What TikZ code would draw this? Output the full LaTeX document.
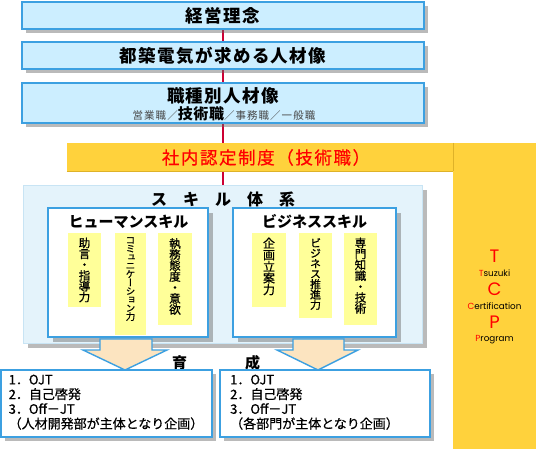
\documentclass[tikz,border=0pt]{standalone}
\usepackage{fontspec}
\setmainfont{Noto Sans CJK JP}
\newfontfamily\jp{Noto Sans CJK JP}
\newfontfamily\jpm[FakeBold=0.6]{Noto Sans CJK JP}
\newfontfamily\vjp[RawFeature=+vert,FakeBold=0.8]{Noto Sans CJK JP}
\newfontfamily\geo{Poppins}
\usetikzlibrary{shadows,backgrounds}
\definecolor{boxblue}{RGB}{204,238,255}
\definecolor{edgeblue}{RGB}{60,160,225}
\definecolor{gold}{RGB}{255,210,60}
\definecolor{golddark}{RGB}{222,178,40}
\definecolor{paleyel}{RGB}{255,255,153}
\definecolor{panelfill}{RGB}{228,243,251}
\definecolor{paneledge}{RGB}{200,228,244}
\definecolor{peach}{RGB}{252,228,192}
\definecolor{lred}{RGB}{204,0,51}
\definecolor{subgray}{RGB}{70,70,70}
\begin{document}
\setlength{\lineskiplimit}{-10pt}
\begin{tikzpicture}[x=1pt,y=-1pt,
  shad/.style={drop shadow={shadow xshift=#1, shadow yshift=-#1, fill=black!60, opacity=0.45}},
  topbox/.style={draw=edgeblue, line width=1.4pt, fill=boxblue, minimum width=402pt, inner sep=0pt, shad=4pt},
  head/.style={font=\jp\bfseries\fontsize{17.5}{20}\selectfont\addfontfeatures{LetterSpace=8}},
  skillbox/.style={draw=edgeblue, line width=1.4pt, fill=white, minimum height=129pt, inner sep=0pt, shad=5pt},
  skilltitle/.style={font=\jp\bfseries\fontsize{15}{18}\selectfont},
  ycol/.style={fill=paleyel, inner sep=0pt},
  vtxt/.style={anchor=north, inner sep=0pt, align=center},
  devarrow/.style={draw=edgeblue, line width=1.4pt, fill=peach, line join=miter},
  outbox/.style={draw=edgeblue, line width=1.4pt, fill=white, minimum height=67pt, inner sep=0pt, shad=4pt},
  outtxt/.style={anchor=north west, inner sep=0pt, align=left, font=\jpm\fontsize{13}{14.7}\selectfont},
  bigl/.style={anchor=base, inner sep=0pt, text=red, font=\geo\fontsize{18}{20}\selectfont},
  smalll/.style={anchor=base, inner sep=0pt, font=\geo\fontsize{8.8}{10}\selectfont}
]
\useasboundingbox (0,0) rectangle (540,452);

% top boxes
\node[topbox, minimum height=27pt, head] (b1) at (223,15.5) {経営理念};
\node[topbox, minimum height=27pt, head] (b2) at (223,55.5) {都築電気が求める人材像};
\node[topbox, minimum height=40pt] (b3) at (223,103) {};
\node[inner sep=0pt, head] (b3t) at (223,95.5) {職種別人材像};
\node[inner sep=0pt, font=\jp\fontsize{10.5}{12}\selectfont\addfontfeatures{LetterSpace=10}, text=subgray] (b3s) at (224,114)
  {営業職／{\bfseries\fontsize{15}{16}\selectfont\addfontfeatures{LetterSpace=4}\color{black}技術職}／事務職／一般職};

% certification bar and TCP column
\node[fill=gold, minimum width=386pt, minimum height=28pt, inner sep=0pt] (bar) at (260,157) {};
\node[fill=gold, minimum width=83pt, minimum height=306pt, inner sep=0pt] (tcp) at (494.5,296) {};
\draw[golddark, line width=0.6pt] (bar.north east) -- (bar.south east);
\draw[golddark, line width=1.2pt] (bar.south west) -- (bar.south east);
\node[inner sep=0pt, text=red, font=\jpm\fontsize{17.5}{20}\selectfont\addfontfeatures{LetterSpace=9}] (bart) at (266,157.5) {社内認定制度（技術職）};

\node[bigl] (tT) at (494.5,262.5) {T};
\node[smalll] (tw1) at (494.5,276.5) {\textcolor{red}{T}suzuki};
\node[bigl] (tC) at (494.5,295.5) {C};
\node[smalll] (tw2) at (494.5,309.5) {\textcolor{red}{C}ertification};
\node[bigl] (tP) at (494.5,328.5) {P};
\node[smalll] (tw3) at (494.5,341) {\textcolor{red}{P}rogram};

% skill panel
\node[draw=paneledge, line width=0.8pt, fill=panelfill, minimum width=399pt, minimum height=158pt, inner sep=0pt, shad=5pt] (panel) at (222.5,264) {};
\node[inner sep=0pt, font=\jp\bfseries\fontsize{16}{18}\selectfont] (pt) at (223,199) {ス　キ　ル　体　系};

\node[skillbox, minimum width=160pt] (hum) at (128,272.5) {};
\node[skillbox, minimum width=163pt] (bus) at (314.5,272.5) {};
\node[skilltitle] (humt) at (128.5,221.5) {ヒューマンスキル};
\node[skilltitle] (bust) at (314.5,221.5) {ビジネススキル};

\node[ycol, minimum width=33pt, minimum height=74pt] (c1) at (84.5,270) {};
\node[ycol, minimum width=31pt, minimum height=102pt] (c2) at (130.5,284) {};
\node[ycol, minimum width=34pt, minimum height=92pt] (c3) at (175,279) {};
\node[ycol, minimum width=34pt, minimum height=74pt] (c4) at (269,270) {};
\node[ycol, minimum width=33pt, minimum height=85pt] (c5) at (315.5,275.5) {};
\node[ycol, minimum width=33pt, minimum height=92pt] (c6) at (360.5,279) {};

\node[vtxt, font=\vjp\fontsize{11.5}{10.8}\selectfont] (v1) at (84.5,237.5) {助\\言\\・\\指\\導\\力};
\node[vtxt, font=\vjp\fontsize{9.5}{8.5}\selectfont] (v2) at (130.5,237) {コ\\ミ\\ュ\\ニ\\ケ\\ー\\シ\\ョ\\ン\\力};
\node[vtxt, font=\vjp\fontsize{11.5}{11}\selectfont] (v3) at (175,238) {執\\務\\態\\度\\・\\意\\欲};
\node[vtxt, font=\vjp\fontsize{12}{11.6}\selectfont] (v4) at (269,237.5) {企\\画\\立\\案\\力};
\node[vtxt, font=\vjp\fontsize{11}{10.3}\selectfont] (v5) at (315.5,238) {ビ\\ジ\\ネ\\ス\\推\\進\\力};
\node[vtxt, font=\vjp\fontsize{11.5}{10.9}\selectfont] (v6) at (360.5,237.5) {専\\門\\知\\識\\・\\技\\術};

% development arrows
\draw[devarrow] (100,339) -- (152,339) -- (152,350) -- (167,350) -- (125,370) -- (83,350) -- (100,350) -- cycle;
\draw[devarrow] (293,339) -- (344,339) -- (344,350) -- (358,350) -- (318,370) -- (277,350) -- (293,350) -- cycle;
\node[inner sep=0pt, font=\jp\bfseries\fontsize{15}{16}\selectfont] (iku) at (179.5,363) {育};
\node[inner sep=0pt, font=\jp\bfseries\fontsize{15}{16}\selectfont] (sei) at (252.5,363) {成};

% output boxes
\node[outbox, minimum width=211pt] (lo) at (106.5,403.5) {};
\node[outbox, minimum width=210pt] (ro) at (325,403.5) {};
\node[outtxt] (lot) at (8.5,374.5) {1．OJT\\2．自己啓発\\3．Off－JT\\（人材開発部が主体となり企画）};
\node[outtxt] (rot) at (230,374.5) {1．OJT\\2．自己啓発\\3．Off－JT\\（各部門が主体となり企画）};

\begin{pgfonlayer}{background}
\fill[white] (0,0) rectangle (540,452);
\draw[lred, line width=2pt] (b1.south) -- (b1.south |- panel.north);
\end{pgfonlayer}
\end{tikzpicture}
\end{document}
